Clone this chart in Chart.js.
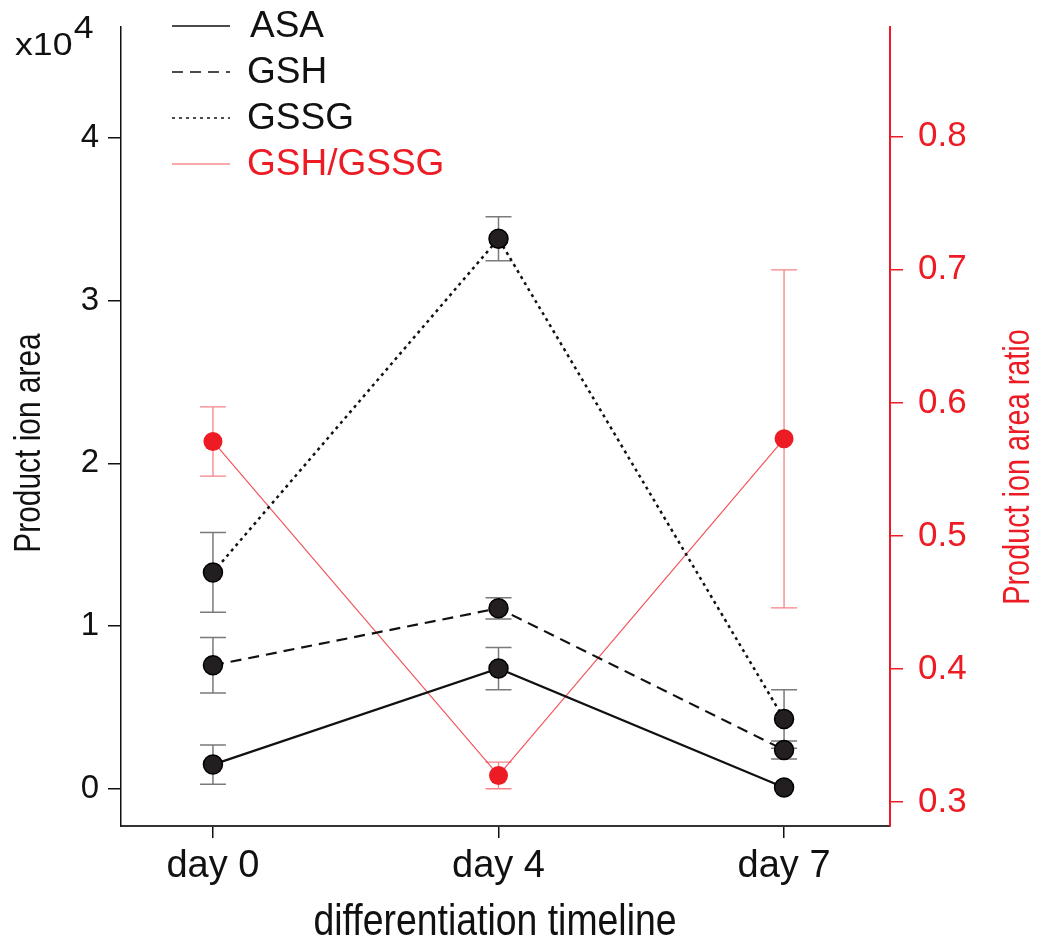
<!DOCTYPE html>
<html>
<head>
<meta charset="utf-8">
<script src="https://cdn.jsdelivr.net/npm/chart.js@4.4.0/dist/chart.umd.min.js"></script>
<style>
  body { margin: 0; background: #fff; }
  canvas { display: block; }
</style>
</head>
<body>
<canvas id="chart" width="1050" height="951"></canvas>
<script>
// values (left axis in units of 10^4)
const categories = ["day 0", "day 4", "day 7"];
const leftTicks = [0, 1, 2, 3, 4];
const rightTicks = [0.3, 0.4, 0.5, 0.6, 0.7, 0.8];

const asaMean = [0.15, 0.74, 0.01];
const asaErr = [0.12, 0.13, 0];
const gshMean = [0.76, 1.11, 0.24];
const gshErr = [0.17, 0.065, 0.055];
const gssgMean = [1.33, 3.38, 0.43];
const gssgErr = [0.245, 0.135, 0.18];
const ratioMean = [0.571, 0.320, 0.573];
const ratioErr = [0.026, 0.010, 0.127];

const RED = "#ed1c24";
const FONT = "'Liberation Sans', Arial, sans-serif";

const pts = (vals) => vals.map((v, i) => ({ x: i, y: v }));

// drop the label overhang padding so the plot area is set by layout only
const noPad = (s) => { s.paddingTop = 0; s.paddingBottom = 0; s.paddingLeft = 0; s.paddingRight = 0; };

// error bars, drawn under the lines and markers
const errorBars = {
    id: "errorBars",
    beforeDatasetsDraw(chart) {
        const ctx = chart.ctx;
        chart.data.datasets.forEach((ds) => {
            if (!ds.errors) return;
            const ys = chart.scales[ds.yAxisID];
            const xs = chart.scales.x;
            ctx.save();
            ctx.strokeStyle = ds.errColor;
            ctx.lineWidth = ds.errWidth;
            ds.data.forEach((p, i) => {
                const e = ds.errors[i];
                if (!e) return;
                const x = xs.getPixelForValue(p.x);
                const top = ys.getPixelForValue(p.y + e);
                const bot = ys.getPixelForValue(p.y - e);
                ctx.beginPath();
                ctx.moveTo(x, top); ctx.lineTo(x, bot);
                ctx.moveTo(x - 13, top); ctx.lineTo(x + 13, top);
                ctx.moveTo(x - 13, bot); ctx.lineTo(x + 13, bot);
                ctx.stroke();
            });
            ctx.restore();
        });
    }
};

// legend, axis titles and the x10^4 multiplier
const annotations = {
    id: "annotations",
    afterDraw(chart) {
        const ctx = chart.ctx;
        ctx.save();
        ctx.textBaseline = "middle";

        chart.data.datasets.forEach((ds, i) => {
            const y = 26 + i * 46;
            ctx.strokeStyle = ds.borderColor;
            ctx.lineWidth = ds.legendWidth;
            ctx.setLineDash(ds.borderDash || []);
            ctx.beginPath();
            ctx.moveTo(172, y); ctx.lineTo(230, y);
            ctx.stroke();
            ctx.setLineDash([]);
            ctx.fillStyle = ds.textColor;
            ctx.font = "37px " + FONT;
            ctx.textAlign = "left";
            ctx.fillText(ds.label, i === 0 ? 250 : 247, y + 1);
        });

        // x10^4 multiplier, slightly stretched like the original
        ctx.fillStyle = "#111";
        ctx.textAlign = "left";
        ctx.textBaseline = "alphabetic";
        ctx.save();
        ctx.translate(15, 55);
        ctx.scale(1.15, 1);
        ctx.font = "31px " + FONT;
        ctx.fillText("x10", 0, 0);
        ctx.fillText("4", ctx.measureText("x10").width + 1, -17);
        ctx.restore();

        ctx.textAlign = "center";
        ctx.textBaseline = "middle";

        ctx.save();
        ctx.translate(495, 923);
        ctx.scale(0.85, 1);
        ctx.font = "44px " + FONT;
        ctx.fillText("differentiation timeline", 0, 0);
        ctx.restore();

        ctx.font = "36px " + FONT;
        ctx.save();
        ctx.translate(30, 443);
        ctx.rotate(-Math.PI / 2);
        ctx.scale(0.83, 1);
        ctx.fillText("Product ion area", 0, 0);
        ctx.restore();

        ctx.fillStyle = RED;
        ctx.save();
        ctx.translate(1019, 467);
        ctx.rotate(-Math.PI / 2);
        ctx.scale(0.8, 1);
        ctx.fillText("Product ion area ratio", 0, 0);
        ctx.restore();

        ctx.restore();
    }
};

const blackPoint = {
    borderColor: "#111",
    pointRadius: 9.5,
    pointBackgroundColor: "#231f20",
    pointBorderColor: "#000",
    pointBorderWidth: 1.5,
    textColor: "#111",
    errColor: "#7a7a7a",
    errWidth: 1.5,
    yAxisID: "y"
};

new Chart(document.getElementById("chart"), {
    type: "line",
    data: {
        datasets: [
            Object.assign({ label: "ASA", data: pts(asaMean), errors: asaErr,
                borderWidth: 2.2, legendWidth: 1.5 }, blackPoint),
            Object.assign({ label: "GSH", data: pts(gshMean), errors: gshErr,
                borderWidth: 2.2, legendWidth: 1.5, borderDash: [11, 7] }, blackPoint),
            Object.assign({ label: "GSSG", data: pts(gssgMean), errors: gssgErr,
                borderWidth: 2.5, legendWidth: 1.5, borderDash: [3, 4] }, blackPoint),
            {
                label: "GSH/GSSG",
                data: pts(ratioMean),
                errors: ratioErr,
                yAxisID: "y2",
                borderColor: "rgba(237,28,36,0.75)",
                borderWidth: 1.2,
                legendWidth: 1.2,
                pointRadius: 9.5,
                pointBackgroundColor: RED,
                pointBorderColor: RED,
                pointBorderWidth: 0,
                textColor: RED,
                errColor: "rgba(237,28,36,0.55)",
                errWidth: 1.3
            }
        ]
    },
    options: {
        responsive: false,
        animation: false,
        layout: { padding: { top: 27, left: 0, right: 0, bottom: 0 } },
        plugins: { legend: { display: false }, tooltip: { enabled: false } },
        scales: {
            x: {
                type: "linear",
                min: -0.322,
                max: 2.371,
                afterBuildTicks: (s) => { s.ticks = categories.map((c, i) => ({ value: i })); },
                afterFit: (s) => { s.height = 125; noPad(s); },
                ticks: {
                    callback: (v) => categories[v],
                    color: "#111",
                    font: { family: FONT, size: 38 },
                    padding: 6,
                    maxRotation: 0
                },
                grid: { drawOnChartArea: false, tickLength: 12, color: "#111", lineWidth: 1.5 },
                border: { color: "#333", width: 2 }
            },
            y: {
                position: "left",
                min: -0.227,
                max: 4.68,
                afterBuildTicks: (s) => { s.ticks = leftTicks.map((v) => ({ value: v })); },
                afterFit: (s) => { s.width = 121; noPad(s); },
                ticks: { color: "#111", font: { family: FONT, size: 33 }, padding: 9 },
                grid: { drawOnChartArea: false, tickLength: 13, color: "#111", lineWidth: 1.5 },
                border: { color: "#111", width: 1.5 }
            },
            y2: {
                position: "right",
                min: 0.282,
                max: 0.8825,
                afterBuildTicks: (s) => { s.ticks = rightTicks.map((v) => ({ value: v })); },
                afterFit: (s) => { s.width = 160; noPad(s); },
                ticks: {
                    color: RED,
                    font: { family: FONT, size: 35 },
                    padding: 15,
                    callback: (v) => v.toFixed(1)
                },
                grid: { drawOnChartArea: false, tickLength: 13, color: RED, lineWidth: 1.5 },
                border: { color: RED, width: 2 }
            }
        }
    },
    plugins: [errorBars, annotations]
});
</script>
</body>
</html>
